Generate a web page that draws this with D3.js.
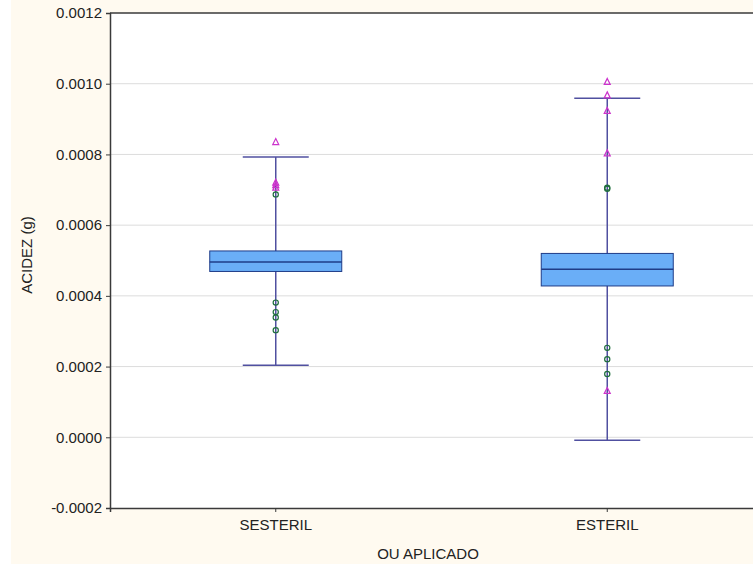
<!DOCTYPE html>
<html>
<head>
<meta charset="utf-8">
<script src="https://cdn.jsdelivr.net/npm/d3@7"></script>
<style>
  body { margin: 0; background: #ffffff; }
  svg { display: block; font-family: "Liberation Sans", Arial, sans-serif; }
</style>
</head>
<body>
<svg id="chart"></svg>
<script>
const categories = ['SESTERIL', 'ESTERIL'];
const whiskerLow = [0.000204, -0.0000085];
const boxLow = [0.000469, 0.000428];
const medians = [0.000496, 0.000475];
const boxHigh = [0.000527, 0.00052];
const whiskerHigh = [0.000793, 0.000959];
// outliers (circles) and extremes (triangles) per category
const outliers = [
    [0.000687, 0.000381, 0.000354, 0.000339, 0.000303],
    [0.000706, 0.000703, 0.000253, 0.000221, 0.000179]
];
const extremes = [
    [0.000835, 0.00072, 0.000713, 0.000706],
    [0.001005, 0.000967, 0.000923, 0.000803, 0.000131]
];
const yTicks = [-0.0002, 0, 0.0002, 0.0004, 0.0006, 0.0008, 0.001, 0.0012];

const W = 753, H = 564;
const m = { left: 110, top: 13, right: -20, bottom: 56 };
const fontSize = 15;

const svg = d3.select('#chart').attr('width', W).attr('height', H);

svg.append('rect')
    .attr('x', 11).attr('y', 0)
    .attr('width', W - 11).attr('height', H)
    .attr('fill', '#fffaf0');

const x = d3.scaleBand()
    .domain(categories)
    .range([m.left, W - m.right]);

const y = d3.scaleLinear()
    .domain([-0.0002, 0.0012])
    .range([H - m.bottom, m.top]);

svg.append('rect')
    .attr('x', m.left).attr('y', m.top)
    .attr('width', W - m.right - m.left).attr('height', H - m.bottom - m.top)
    .attr('fill', '#ffffff');

// grid
svg.append('g')
    .selectAll('line')
    .data(yTicks.slice(1, -1))
    .enter()
    .append('line')
    .attr('x1', m.left).attr('x2', W)
    .attr('y1', (d) => y(d)).attr('y2', (d) => y(d))
    .attr('stroke', '#dcdcdc')
    .attr('stroke-width', 1);

// axes
const fmt = (d) => {
    if (Math.abs(d) < 1e-12)
        return '0.0000';
    return (d < 0 ? '-' : '') + Math.abs(d).toFixed(4);
};

const yAxis = svg.append('g')
    .attr('transform', 'translate(' + m.left + ',0)')
    .call(d3.axisLeft(y).tickValues(yTicks).tickSize(4).tickFormat(fmt));
yAxis.select('.domain').attr('stroke', '#3a3a3a').attr('stroke-width', 1.5);
yAxis.selectAll('.tick line').attr('stroke', '#3a3a3a');
yAxis.selectAll('.tick text')
    .attr('x', -8)
    .attr('font-size', fontSize)
    .attr('fill', '#222');

const xAxis = svg.append('g')
    .attr('transform', 'translate(0,' + (H - m.bottom) + ')')
    .call(d3.axisBottom(x).tickSize(4));
xAxis.select('.domain').attr('stroke', '#3a3a3a').attr('stroke-width', 1.5);
xAxis.selectAll('.tick line').attr('stroke', '#3a3a3a');
xAxis.selectAll('.tick text')
    .attr('y', 11)
    .attr('font-size', fontSize)
    .attr('fill', '#222');

// top border
svg.append('line')
    .attr('x1', m.left).attr('x2', W)
    .attr('y1', m.top).attr('y2', m.top)
    .attr('stroke', '#3a3a3a').attr('stroke-width', 1.5);

// labels
svg.append('text')
    .attr('transform', 'translate(32,' + 255 + ') rotate(-90)')
    .attr('text-anchor', 'middle')
    .attr('font-size', fontSize)
    .attr('fill', '#222')
    .text('ACIDEZ (g)');

svg.append('text')
    .attr('x', 428).attr('y', 559)
    .attr('text-anchor', 'middle')
    .attr('font-size', fontSize)
    .attr('fill', '#222')
    .text('OU APLICADO');

// boxes
const boxW = 132, capW = 66;
const boxes = svg.append('g');
categories.forEach((c, i) => {
    const cx = x(c) + x.bandwidth() / 2;
    const g = boxes.append('g');
    g.append('line')
        .attr('x1', cx).attr('x2', cx)
        .attr('y1', y(whiskerLow[i])).attr('y2', y(whiskerHigh[i]))
        .attr('stroke', '#5050a0').attr('stroke-width', 1.5);
    [whiskerLow[i], whiskerHigh[i]].forEach((v) => {
        g.append('line')
            .attr('x1', cx - capW / 2).attr('x2', cx + capW / 2)
            .attr('y1', y(v)).attr('y2', y(v))
            .attr('stroke', '#5050a0').attr('stroke-width', 1.5);
    });
    g.append('rect')
        .attr('x', cx - boxW / 2).attr('width', boxW)
        .attr('y', y(boxHigh[i])).attr('height', y(boxLow[i]) - y(boxHigh[i]))
        .attr('fill', '#6aaef7')
        .attr('stroke', '#1f3c88').attr('stroke-width', 1);
    g.append('line')
        .attr('x1', cx - boxW / 2).attr('x2', cx + boxW / 2)
        .attr('y1', y(medians[i])).attr('y2', y(medians[i]))
        .attr('stroke', '#1f3c88').attr('stroke-width', 1.5);

    g.selectAll('circle.out')
        .data(outliers[i])
        .enter()
        .append('circle')
        .attr('class', 'out')
        .attr('cx', cx).attr('cy', (d) => y(d))
        .attr('r', 2.6)
        .attr('fill', 'none')
        .attr('stroke', '#1e6e3c').attr('stroke-width', 1.2);

    g.selectAll('path.ext')
        .data(extremes[i])
        .enter()
        .append('path')
        .attr('class', 'ext')
        .attr('transform', (d) => 'translate(' + cx + ',' + y(d) + ')')
        .attr('d', 'M0,-3.5 L3,2.5 L-3,2.5 Z')
        .attr('fill', 'none')
        .attr('stroke', '#cc33cc').attr('stroke-width', 1.2);
});
</script>
</body>
</html>
